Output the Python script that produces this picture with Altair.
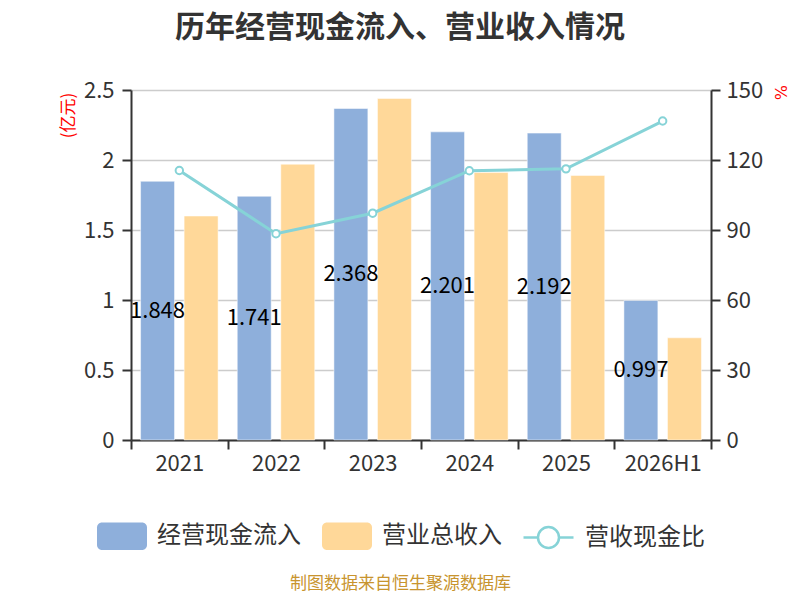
import altair as alt
import pandas as pd

years = ["2021", "2022", "2023", "2024", "2025", "2026H1"]
cash_inflow = [1.848, 1.741, 2.368, 2.201, 2.192, 0.997]
revenue = [1.60, 1.97, 2.44, 1.91, 1.89, 0.73]
ratio = [115.5, 88.4, 97.2, 115.4, 116.2, 136.7]
bar_series = ["经营现金流入", "营业总收入"]
line_series = "营收现金比"
left_ticks = [0, 0.5, 1, 1.5, 2, 2.5]
right_ticks = [0, 30, 60, 90, 120, 150]

BLUE = "#8EAFDB"
ORANGE = "#FFD899"
TEAL = "#86D3D7"
FONT = "Noto Sans CJK SC"
DARK = "#333333"

bars_df = pd.DataFrame({
    "year": years + years,
    "series": [bar_series[0]] * len(years) + [bar_series[1]] * len(years),
    "value": cash_inflow + revenue,
})
labels_df = pd.DataFrame({"year": years, "series": bar_series[0], "value": cash_inflow})
line_df = pd.DataFrame({"year": years, "series": line_series, "ratio": ratio})

RRECT = ("M-0.8,-0.55H0.8A0.2,0.2,0,0,1,1,-0.35V0.35A0.2,0.2,0,0,1,0.8,0.55"
         "H-0.8A0.2,0.2,0,0,1,-1,0.35V-0.35A0.2,0.2,0,0,1,-0.8,-0.55Z")
LINESYM = ("M-1,0H-0.42M0.42,0H1M-0.42,0A0.42,0.42,0,1,1,0.42,0"
           "A0.42,0.42,0,1,1,-0.42,0Z")

x_enc = alt.X(
    "year:N", sort=years,
    scale=alt.Scale(domain=years, paddingInner=0, paddingOuter=0),
    axis=alt.Axis(
        title="制图数据来自恒生聚源数据库", labelAngle=0, tickBand="extent", grid=False,
        titleX=269, titleY=143, titleAlign="center", titleBaseline="middle",
        titleFontSize=17, titleColor="#C8942E", titleFontWeight="normal", titleFont=FONT,
        labelPadding=4,
    ),
)
xoff = alt.XOffset("series:N", scale=alt.Scale(domain=bar_series, paddingInner=0.22, paddingOuter=0.22))

left_axis = alt.Axis(
    orient="left", values=left_ticks, format="~g", title="(亿元)",
    titleAngle=270, titleX=-63, titleY=25, titleAlign="center", titleBaseline="middle",
    titleColor="#FF0000", titleFontSize=17, titleFontWeight="normal", titleFont=FONT,
    grid=True, gridColor="#CCCCCC", gridWidth=1.5, labelPadding=8,
)
right_axis = alt.Axis(
    orient="right", values=right_ticks, format="d", title="%",
    titleAngle=90, titleX=68, titleY=2, titleAlign="center", titleBaseline="middle",
    titleColor="#FF0000", titleFontSize=16, titleFontWeight="normal", titleFont="DejaVu Sans",
    grid=False, labelPadding=6,
)

bars = alt.Chart(bars_df).mark_bar(stroke="white", strokeOpacity=0.5, strokeWidth=1).encode(
    x=x_enc,
    xOffset=xoff,
    y=alt.Y("value:Q", scale=alt.Scale(domain=[0, 2.5]), axis=left_axis),
    color=alt.Color(
        "series:N",
        scale=alt.Scale(domain=bar_series, range=[BLUE, ORANGE]),
        legend=alt.Legend(
            orient="none", legendX=-34, legendY=421, direction="horizontal", title=None,
            symbolType=RRECT, symbolSize=2500, symbolStrokeWidth=0, symbolOpacity=1,
            labelFontSize=24, labelFont=FONT, labelColor=DARK, labelOffset=10,
            columnPadding=21,
        ),
    ),
)

labels = alt.Chart(labels_df).transform_calculate(mid="datum.value / 2").mark_text(
    fontSize=22, color="black", font=FONT, align="center", baseline="middle"
).encode(
    x=x_enc,
    xOffset=xoff,
    y=alt.Y("mid:Q", scale=alt.Scale(domain=[0, 2.5]), axis=left_axis),
    text=alt.Text("value:Q", format=".3f"),
)

line = alt.Chart(line_df).mark_line(strokeWidth=3).encode(
    x=x_enc,
    y=alt.Y("ratio:Q", scale=alt.Scale(domain=[0, 150]), axis=right_axis),
    stroke=alt.Stroke(
        "series:N",
        scale=alt.Scale(domain=[line_series], range=[TEAL]),
        legend=alt.Legend(
            orient="none", legendX=391, legendY=421, direction="horizontal", title=None,
            symbolType=LINESYM, symbolSize=2500, symbolStrokeWidth=2.5,
            symbolFillColor="white", symbolOpacity=1,
            labelFontSize=24, labelFont=FONT, labelColor=DARK, labelOffset=10,
        ),
    ),
)

points = alt.Chart(line_df).mark_point(
    filled=True, fill="white", stroke=TEAL, strokeWidth=2, size=55, opacity=1
).encode(
    x=x_enc,
    y=alt.Y("ratio:Q", scale=alt.Scale(domain=[0, 150]), axis=right_axis),
)

left = alt.layer(bars, labels)
right = alt.layer(line, points)

chart = alt.layer(left, right).resolve_scale(y="independent").properties(
    width=580,
    height=350,
    autosize=alt.AutoSizeParams(type="none"),
    padding={"left": 123, "top": 82, "right": 81, "bottom": 152},
    title=alt.TitleParams(
        "历年经营现金流入、营业收入情况", fontSize=30, fontWeight="bold", color=DARK,
        font=FONT, anchor="middle", dx=-21, offset=36,
    ),
).configure_view(stroke=None).configure_axis(
    domainColor=DARK, domainWidth=2, tickColor=DARK, tickWidth=2, tickSize=9,
    labelFontSize=22, labelColor=DARK, labelFont=FONT,
)

chart.save("out.html", embed_options={"renderer": "svg", "actions": False})
